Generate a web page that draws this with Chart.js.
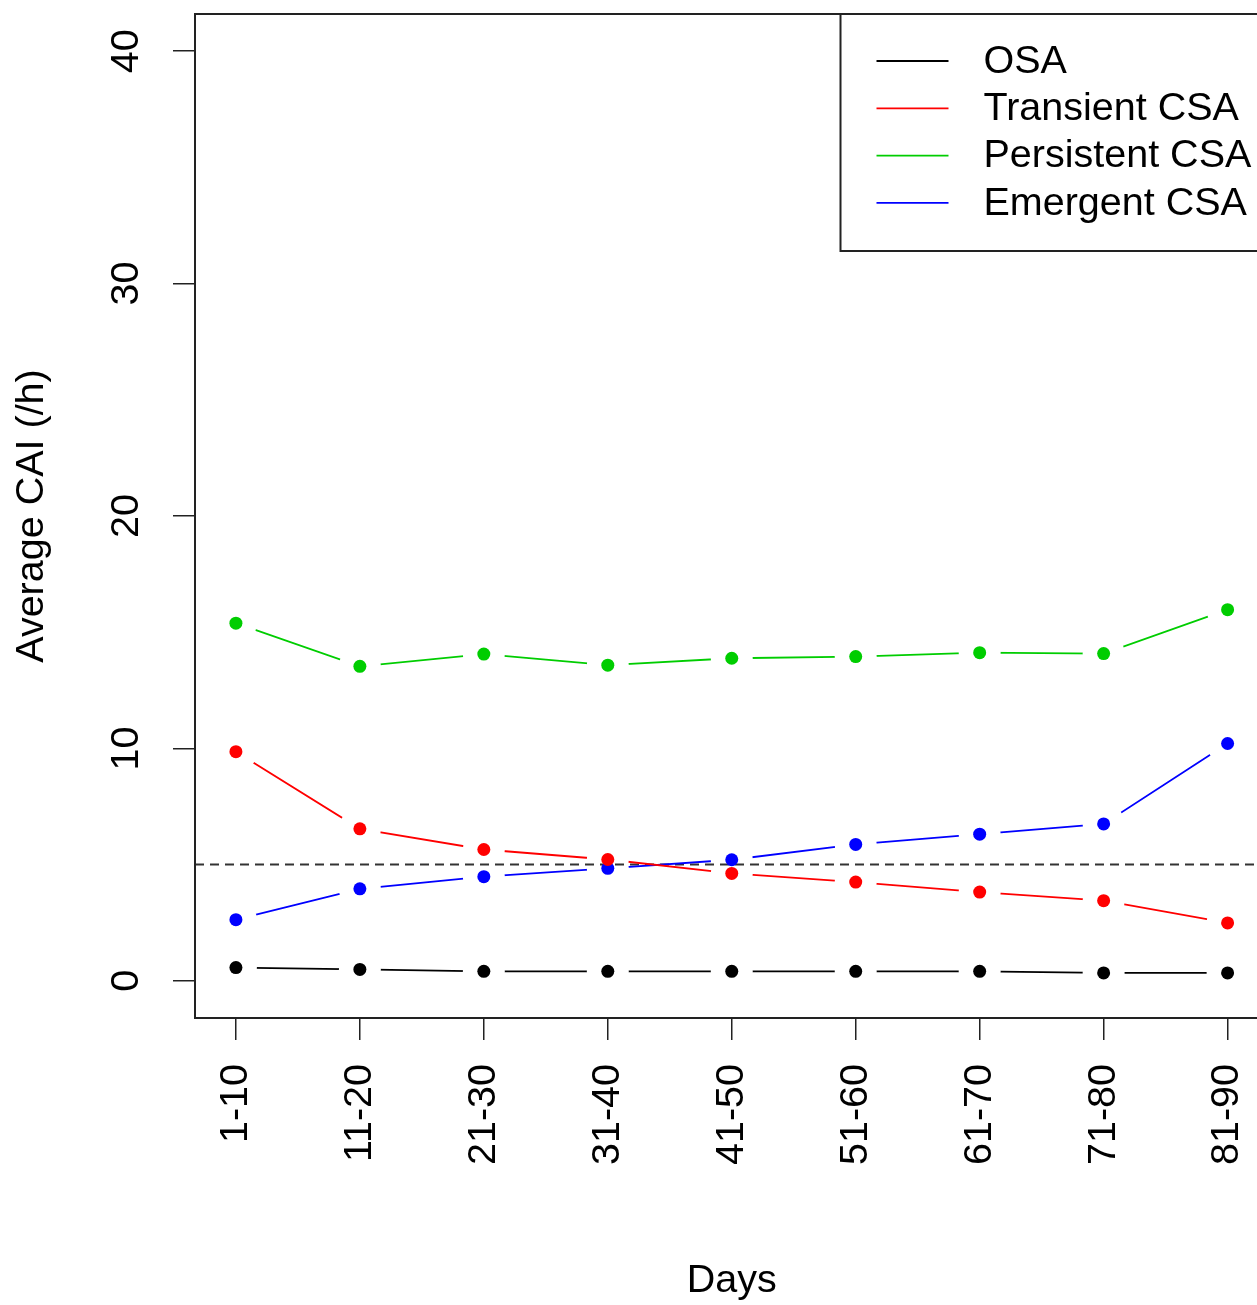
<!DOCTYPE html>
<html>
<head>
<meta charset="utf-8">
<script src="https://cdn.jsdelivr.net/npm/chart.js@4/dist/chart.umd.min.js"></script>
<style>
  html, body { margin: 0; padding: 0; background: #fff; overflow: hidden; }
  #wrap { position: absolute; left: 0; top: 0; width: 1275px; height: 1305px; }
</style>
</head>
<body>
<div id="wrap"><canvas id="grafico" width="1275" height="1305"></canvas></div>
<script>
// datos
const dias = ['1-10', '11-20', '21-30', '31-40', '41-50', '51-60', '61-70', '71-80', '81-90'];
const osa = [0.57, 0.49, 0.41, 0.41, 0.41, 0.41, 0.41, 0.34, 0.34];
const transitoria = [9.86, 6.54, 5.65, 5.22, 4.62, 4.25, 3.82, 3.45, 2.49];
const persistente = [15.39, 13.53, 14.06, 13.58, 13.88, 13.95, 14.12, 14.08, 15.97];
const emergente = [2.63, 3.96, 4.48, 4.84, 5.21, 5.87, 6.31, 6.75, 10.21];
const yTicks = [0, 10, 20, 30, 40];
const umbral = 5;

const series = [
    { label: 'OSA', data: osa, color: '#000000' },
    { label: 'Transient CSA', data: transitoria, color: '#FF0000' },
    { label: 'Persistent CSA', data: persistente, color: '#00CD00' },
    { label: 'Emergent CSA', data: emergente, color: '#0000FF' }
];

const fuente = { family: 'Liberation Sans, Arial, sans-serif', size: 39.5 };

function puntos(valores) {
    return valores.map((v, i) => ({ x: i + 1, y: v }));
}

let datasets = [];
series.forEach(s => {
    // linea con huecos alrededor de los puntos (tipo "b")
    datasets.push({
        label: s.label,
        data: puntos(s.data),
        borderColor: s.color,
        backgroundColor: s.color,
        borderWidth: 1.8,
        pointRadius: 0,
        tension: 0,
        hueco: true
    });
});
series.forEach(s => {
    datasets.push({
        label: s.label + ' pts',
        data: puntos(s.data),
        showLine: false,
        borderColor: s.color,
        backgroundColor: s.color,
        pointRadius: 6.5,
        pointBorderWidth: 0
    });
});

const huecos = {
    id: 'huecos',
    beforeDatasetDraw(chart, args) {
        const ds = chart.data.datasets[args.index];
        if (!ds.hueco) return;
        const ctx = chart.ctx;
        ctx.save();
        ctx.beginPath();
        ctx.rect(0, 0, chart.width, chart.height);
        args.meta.data.forEach(p => {
            ctx.moveTo(p.x + 21, p.y);
            ctx.arc(p.x, p.y, 21, 0, Math.PI * 2);
        });
        ctx.clip('evenodd');
    },
    afterDatasetDraw(chart, args) {
        const ds = chart.data.datasets[args.index];
        if (ds.hueco) chart.ctx.restore();
    }
};

const extras = {
    id: 'extras',
    beforeDatasetsDraw(chart) {
        const ctx = chart.ctx;
        const a = chart.chartArea;
        const y = chart.scales.y.getPixelForValue(umbral);
        ctx.save();
        ctx.strokeStyle = '#333';
        ctx.lineWidth = 2;
        ctx.setLineDash([9, 6]);
        ctx.beginPath();
        ctx.moveTo(a.left, y);
        ctx.lineTo(a.right, y);
        ctx.stroke();
        ctx.restore();
    },
    afterDraw(chart) {
        const ctx = chart.ctx;
        const a = chart.chartArea;
        ctx.save();
        // marco
        ctx.strokeStyle = '#222';
        ctx.lineWidth = 2;
        ctx.strokeRect(a.left, a.top, a.right - a.left, a.bottom - a.top);
        // leyenda
        const lineas = chart.data.datasets.filter(d => d.hueco);
        const x0 = a.right - 428;
        const y0 = a.top;
        ctx.fillStyle = '#fff';
        ctx.fillRect(x0, y0, a.right - x0, 237);
        ctx.strokeRect(x0, y0, a.right - x0, 237);
        ctx.font = fuente.size + 'px ' + fuente.family;
        ctx.textBaseline = 'middle';
        ctx.textAlign = 'left';
        lineas.forEach((d, i) => {
            const yy = y0 + 47 + i * 47.3;
            ctx.strokeStyle = d.borderColor;
            ctx.lineWidth = 1.8;
            ctx.beginPath();
            ctx.moveTo(x0 + 36, yy);
            ctx.lineTo(x0 + 108, yy);
            ctx.stroke();
            ctx.fillStyle = '#000';
            ctx.fillText(d.label, x0 + 143, yy + 1);
        });
        ctx.restore();
    }
};

function sinRelleno(s) {
    s.paddingTop = 0;
    s.paddingBottom = 0;
    s.paddingLeft = 0;
    s.paddingRight = 0;
}

const ctx = document.getElementById('grafico').getContext('2d');
const chart = new Chart(ctx, {
    type: 'line',
    data: { datasets: datasets },
    options: {
        responsive: false,
        animation: false,
        devicePixelRatio: 1,
        layout: { padding: { top: 14, right: 0, bottom: 0, left: 0 } },
        plugins: {
            legend: { display: false },
            tooltip: { enabled: false }
        },
        scales: {
            x: {
                type: 'linear',
                min: 0.67,
                max: 9.33,
                afterBuildTicks: s => { s.ticks = dias.map((d, i) => ({ value: i + 1 })); },
                afterFit: s => { s.height = 287; sinRelleno(s); },
                grid: { drawOnChartArea: false, drawTicks: true, tickLength: 22, color: '#222', lineWidth: 1.5 },
                border: { display: false },
                ticks: {
                    minRotation: 90,
                    maxRotation: 90,
                    padding: 24,
                    color: '#000',
                    font: fuente,
                    callback: v => dias[v - 1]
                },
                title: { display: true, text: 'Days', color: '#000', font: fuente, padding: { top: 0, bottom: 0 } }
            },
            y: {
                min: -1.6,
                max: 41.6,
                afterBuildTicks: s => { s.ticks = yTicks.map(v => ({ value: v })); },
                afterFit: s => { s.width = 195; sinRelleno(s); },
                grid: { drawOnChartArea: false, drawTicks: true, tickLength: 22, color: '#222', lineWidth: 1.5 },
                border: { display: false },
                ticks: {
                    minRotation: 90,
                    maxRotation: 90,
                    crossAlign: 'center',
                    padding: 24,
                    color: '#000',
                    font: fuente
                },
                title: { display: true, text: 'Average CAI (/h)', color: '#000', font: fuente, padding: { top: 8, bottom: 0 } }
            }
        }
    },
    plugins: [huecos, extras]
});
</script>
</body>
</html>
